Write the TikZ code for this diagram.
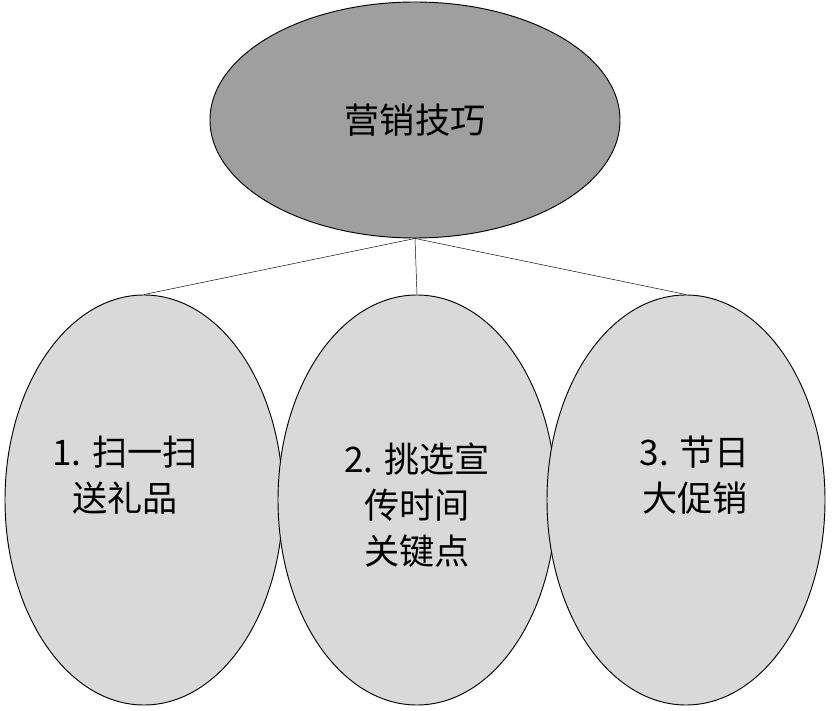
\documentclass[tikz,border=0pt]{standalone}
\usepackage{fontspec}
\newfontfamily\cjk{Noto Sans CJK SC}
\usetikzlibrary{shapes.geometric}
\tikzset{
  topnode/.style={ellipse,draw,thick,fill=gray!75,minimum width=410*0.03cm,minimum height=236*0.03cm,font=\cjk\fontsize{30}{38}\selectfont},
  leafnode/.style={ellipse,draw,thick,fill=gray!30,minimum width=278*0.03cm,minimum height=410*0.03cm},
  leaftext/.style={align=center,font=\cjk\fontsize{30}{39}\selectfont}
}
\begin{document}
\begin{tikzpicture}[x=0.03cm,y=-0.03cm]
        \useasboundingbox (0,0) rectangle (833,711);

        % tip
        \node [topnode] (tips) at (415,120) {营销技巧};

        % leaves
        \node [leafnode] (scan) at (144,500) {};
        \node [leafnode] (time) at (417,500) {};
        \node [leafnode] (fest) at (686,500) {};
        \node [leaftext] (scantext) at (125,475) {1. 扫一扫\\送礼品};
        \node [leaftext] (timetext) at (417,505) {2. 挑选宣\\传时间\\关键点};
        \node [leaftext] (festtext) at (695,475) {3. 节日\\大促销};

        % links
        \draw (tips.south) -- (scan.north);
        \draw (tips.south) -- (time.north);
        \draw (tips.south) -- (fest.north);
\end{tikzpicture}
\end{document}
